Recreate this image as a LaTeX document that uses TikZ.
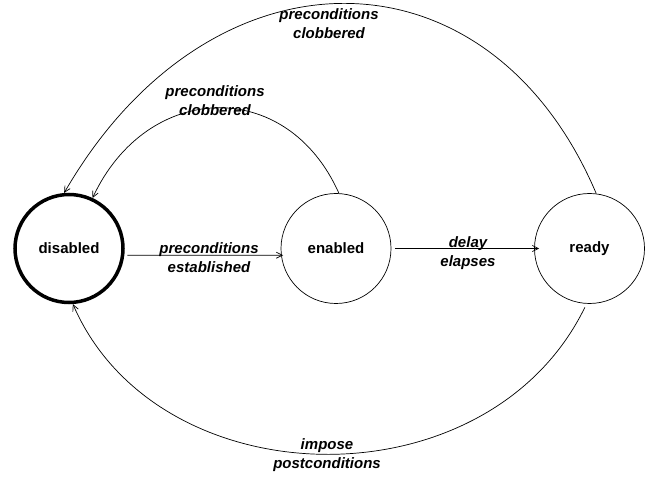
\documentclass[tikz,border=0pt]{standalone}
\usepackage{fontspec}
\setmainfont{Liberation Sans}
\usetikzlibrary{arrows.meta}
\begin{document}
\begin{tikzpicture}[x=1pt,y=1pt,
  state/.style={circle,draw,line width=0.7pt,minimum size=110pt,inner sep=0pt,
    font=\fontsize{15}{19}\selectfont\bfseries},
  lbl/.style={align=center,inner sep=0pt,font=\fontsize{15}{19}\selectfont\bfseries\itshape},
  edge/.style={line width=0.7pt,-{Straight Barb[length=6pt,width=6pt]}}]
\useasboundingbox (0,0) rectangle (656,477);
\node[state,line width=3.5pt,minimum size=108pt] (disabled) at (69,228.5) {disabled};
\node[state] (enabled) at (336,228.5) {enabled};
\node[state] (ready) at (589.5,228.5) {ready};

\draw[edge,shorten <=3pt,shorten >=-2pt] (disabled.-7) -- (enabled.187);
\draw[edge,shorten <=3.5pt,shorten >=-5pt] (enabled.east) -- (ready.west);
\draw[edge] (ready.83) .. controls +(113:275pt) and +(60:292pt) .. (disabled.95);
\draw[edge] (enabled.87) .. controls +(114:128pt) and +(65:129pt) .. (disabled.65);
\draw[edge,shorten <=4pt] (ready.-93) .. controls +(244:226pt) and +(-66.6:214pt) .. (disabled.-86);

\node[lbl] (l1) at (209,219) {preconditions\\established};
\node[lbl] (l2) at (468,224) {delay\\elapses};
\node[lbl] (l3) at (329,453.5) {preconditions\\clobbered};
\node[lbl] (l4) at (215,376.5) {preconditions\\clobbered};
\node[lbl] (l5) at (327,21.5) {impose\\postconditions};
\end{tikzpicture}
\end{document}
